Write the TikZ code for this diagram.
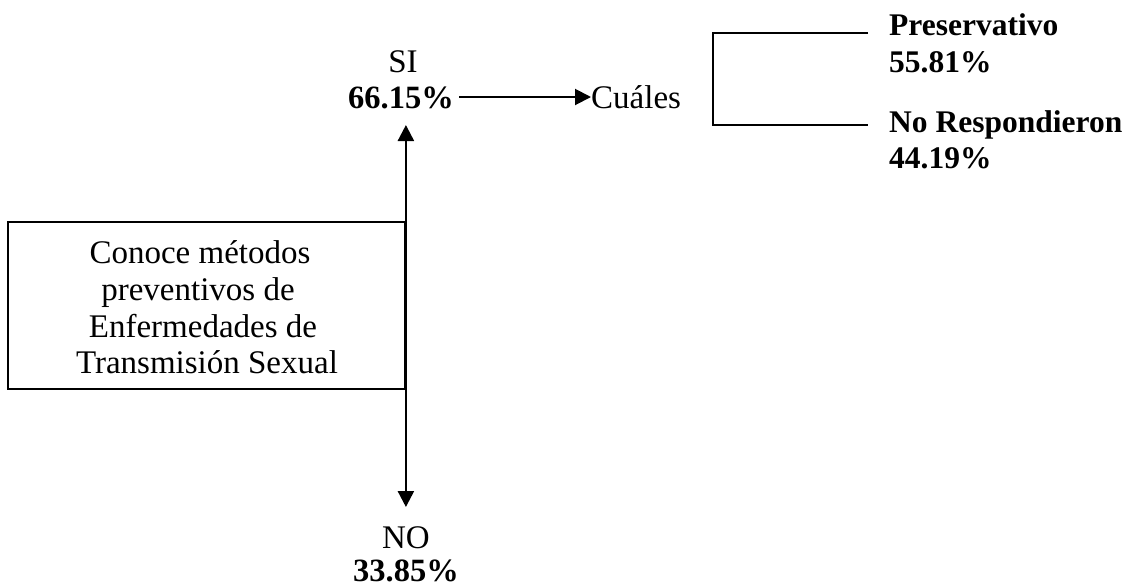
\documentclass[tikz,border=0pt]{standalone}
\usepackage{fontspec}
\setmainfont{Liberation Serif}
\usetikzlibrary{arrows.meta}
\begin{document}
\begin{tikzpicture}[x=1pt,y=-1pt,
  txt/.style={inner sep=0pt,font=\fontsize{33}{36.7}\selectfont},
  btxt/.style={txt,font=\fontsize{32.5}{36.7}\selectfont\bfseries},
  rtxt/.style={txt,font=\fontsize{31.5}{36.7}\selectfont\bfseries},
  arr/.style={line width=2.4pt,-{Triangle[length=16pt,width=16pt]}},
  brk/.style={line width=1.6pt}]
\useasboundingbox (0,0) rectangle (1130,587);
% main box
\node[draw,line width=1.8pt,minimum width=397pt,minimum height=167pt,inner sep=0pt] (box) at (206.5,305.5) {};
\node[txt,anchor=base] (l1) at (200,263) {Conoce métodos};
\node[txt,anchor=base] (l2) at (198,300) {preventivos de};
\node[txt,anchor=base] (l3) at (203,337) {Enfermedades de};
\node[txt,anchor=base] (l4) at (207,373) {Transmisión Sexual};
% SI
\node[txt,anchor=base] (si) at (403,72) {SI};
\node[btxt,anchor=base] (sip) at (401,108) {66.15\%};
% NO
\node[txt,anchor=base] (no) at (406,548) {NO};
\node[btxt,anchor=base] (nop) at (406,581) {33.85\%};
% Cuales
\node[txt,anchor=base west] (cual) at (591,108) {Cuáles};
% results
\node[rtxt,anchor=base west] (pres) at (889,35) {Preservativo};
\node[rtxt,anchor=base west] (presp) at (889,72) {55.81\%};
\node[rtxt,anchor=base west] (nores) at (889,132) {No Respondieron};
\node[rtxt,anchor=base west] (noresp) at (889,168) {44.19\%};
% coordinates
\coordinate (uptip) at (box.east |- 0,125);
\coordinate (downtip) at (box.east |- 0,507);
\coordinate (hs) at (459,97);
\coordinate (bt) at (713,33);
\coordinate (bb) at (713,125);
\coordinate (bte) at (868,33);
\coordinate (bbe) at (868,125);
% connectors
\draw[arr] (box.east) -- (uptip);
\draw[arr] (box.east) -- (downtip);
\draw[arr,line width=2pt] (hs) -- (hs -| cual.west);
\draw[brk] (bte) -- (bt) -- (bb) -- (bbe);
\end{tikzpicture}
\end{document}
